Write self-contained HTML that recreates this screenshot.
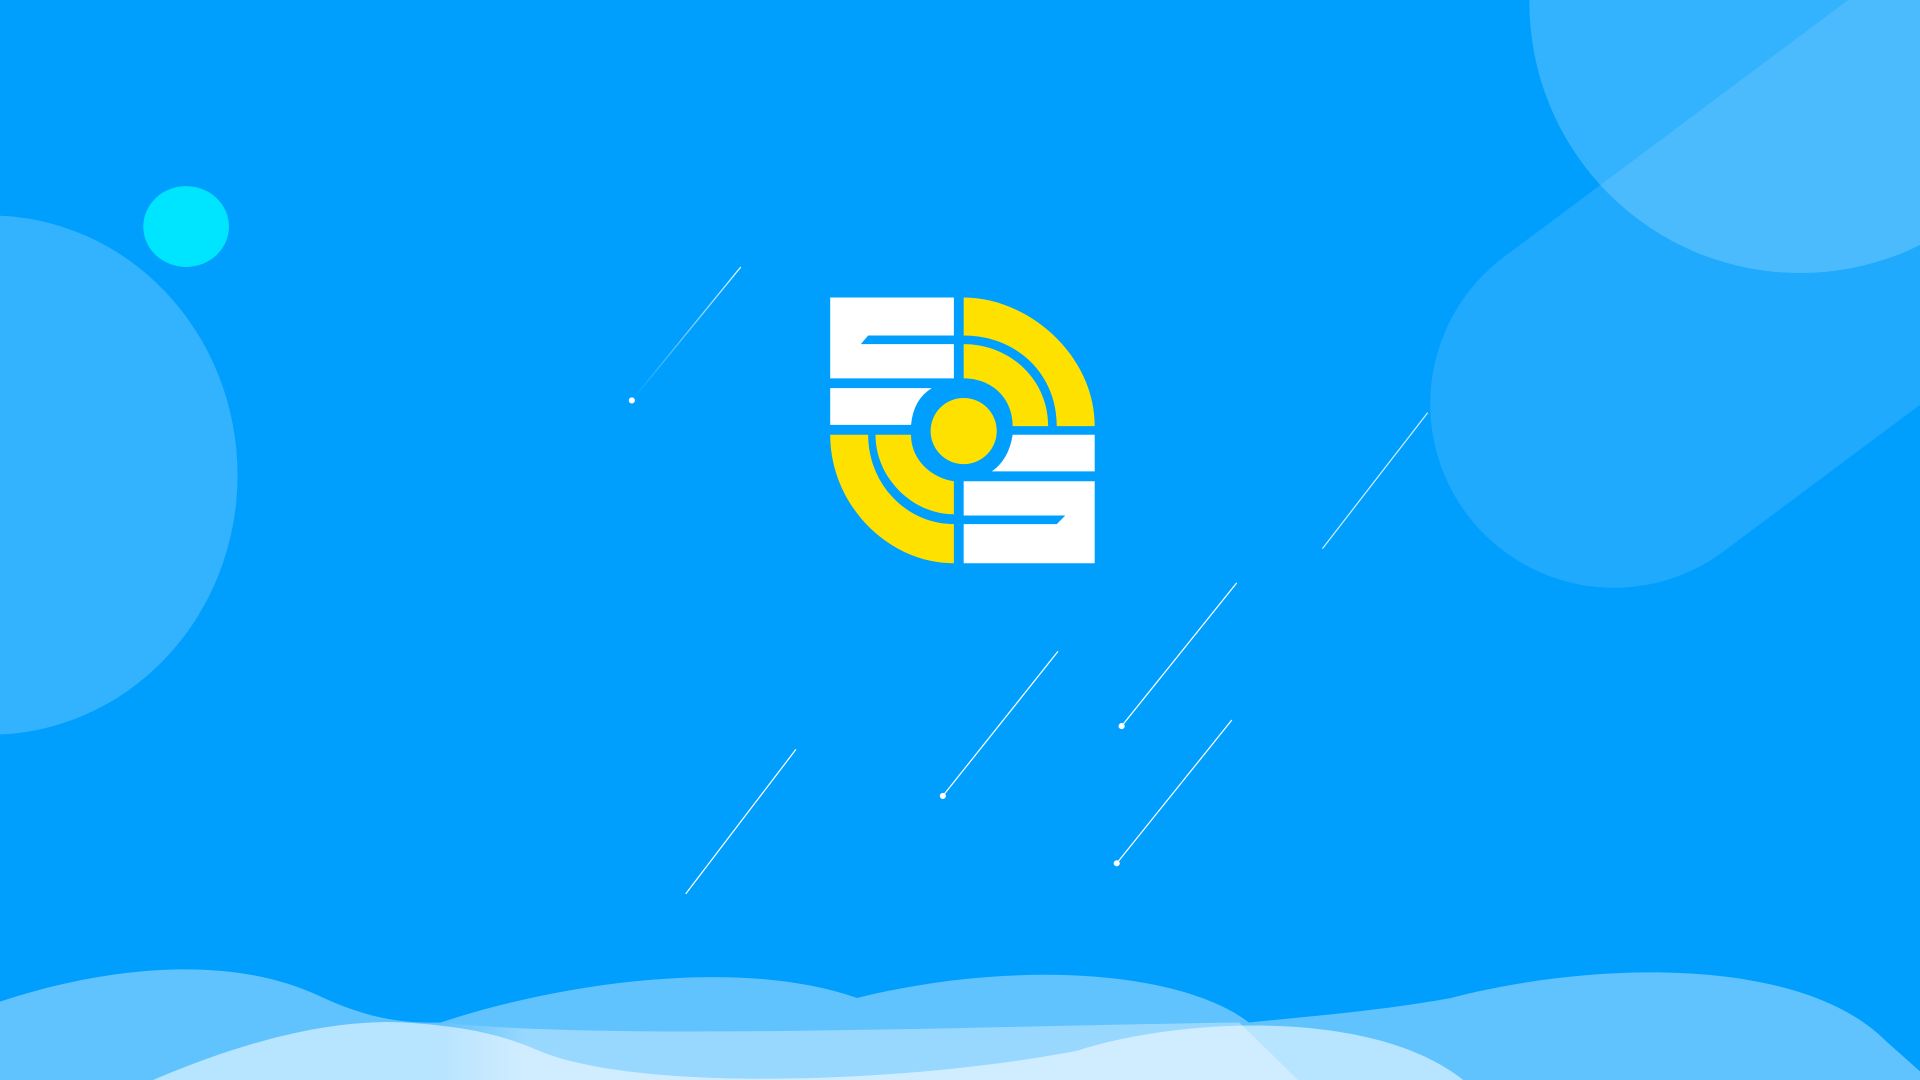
<!DOCTYPE html>
<html><head><meta charset="utf-8"><style>
html,body{margin:0;padding:0;width:1920px;height:1080px;overflow:hidden;background:#009ffe}
svg{display:block}
</style></head><body>
<svg width="1920" height="1080" viewBox="0 0 1568 882" preserveAspectRatio="none" xmlns="http://www.w3.org/2000/svg">
<defs>
<linearGradient id="lg" x1="0" x2="1" y1="0" y2="0">
<stop offset="0" stop-color="#fff" stop-opacity="0"/><stop offset="1" stop-color="#fff" stop-opacity="0.9"/>
</linearGradient>
<linearGradient id="mg" x1="360" x2="430" y1="0" y2="0" gradientUnits="userSpaceOnUse">
<stop offset="0" stop-color="#fff" stop-opacity="0"/><stop offset="1" stop-color="#fff" stop-opacity="0.35"/>
</linearGradient>
</defs>
<rect width="1568" height="882" fill="#009ffe"/>
<ellipse cx="-8" cy="388" rx="202" ry="212" fill="#fff" opacity="0.2"/>
<circle cx="1470" cy="2" r="221" fill="#fff" opacity="0.2"/>
<line x1="1318" y1="330" x2="1720" y2="30" stroke="#fff" stroke-opacity="0.12" stroke-width="300" stroke-linecap="round"/>
<ellipse cx="152" cy="185" rx="35" ry="33" fill="#00e5ff"/>
<g stroke="#fff" stroke-width="1" fill="#fff">
<line x1="516" y1="327" x2="605" y2="218" stroke="url(#lg)"/>
<circle cx="516" cy="327" r="2"/>
<line x1="1080" y1="448" x2="1166" y2="337" stroke-opacity="0.8"/>
<line x1="916" y1="593" x2="1010" y2="476"/><circle cx="916" cy="593" r="2"/>
<line x1="770" y1="650" x2="864" y2="532"/><circle cx="770" cy="650" r="2"/>
<line x1="912" y1="705" x2="1006" y2="588"/><circle cx="912" cy="705" r="2"/>
<line x1="560" y1="730" x2="650" y2="612"/>
</g>
<path d="M0 818 C90 788 190 780 260 813 C300 832 330 836 360 835 C450 805 600 780 700 815 C820 785 960 790 1020 835 C1070 830 1130 825 1185 815 C1300 785 1470 780 1540 850 L1568 875 L1568 882 L0 882Z" fill="#fff" opacity="0.38"/>
<path d="M360 835 C500 850 800 838 1012 835 L1060 882 L360 882Z" fill="url(#mg)"/>
<path d="M125 882 C200 850 270 832 330 835 C380 838 410 845 440 858 C520 892 740 885 880 858 C960 832 1120 822 1195 882Z" fill="#fff" opacity="0.55"/>
<!-- logo -->
<g fill="#fff">
<path d="M678 243 H779 V274 H709 L703 281 H779 V309 H678Z"/>
<path d="M678 317 H761 Q746 326 744 347 H678Z"/>
<path d="M787 393 H894 V460 H787 V428 H863 L870 421 H787Z"/>
<path d="M827 355 H894 V385 H810 Q824 375 827 355Z"/>
</g>
<g fill="#ffe100">
<path d="M787 243 C840 243 894 290 894 348 H863 C863 305 830 274 787 274Z"/>
<path d="M787 281 C825 281 856 310 856 348 H827 C827 325 810 309 787 309Z"/>
<path d="M678 355 C678 412 725 460 779 460 V428 C740 428 709 395 709 355Z"/>
<path d="M715 355 C715 390 745 420 779 420 V393 C760 390 744 375 744 355Z"/>
<circle cx="787" cy="352" r="27"/>
</g>
</svg>
</body></html>
